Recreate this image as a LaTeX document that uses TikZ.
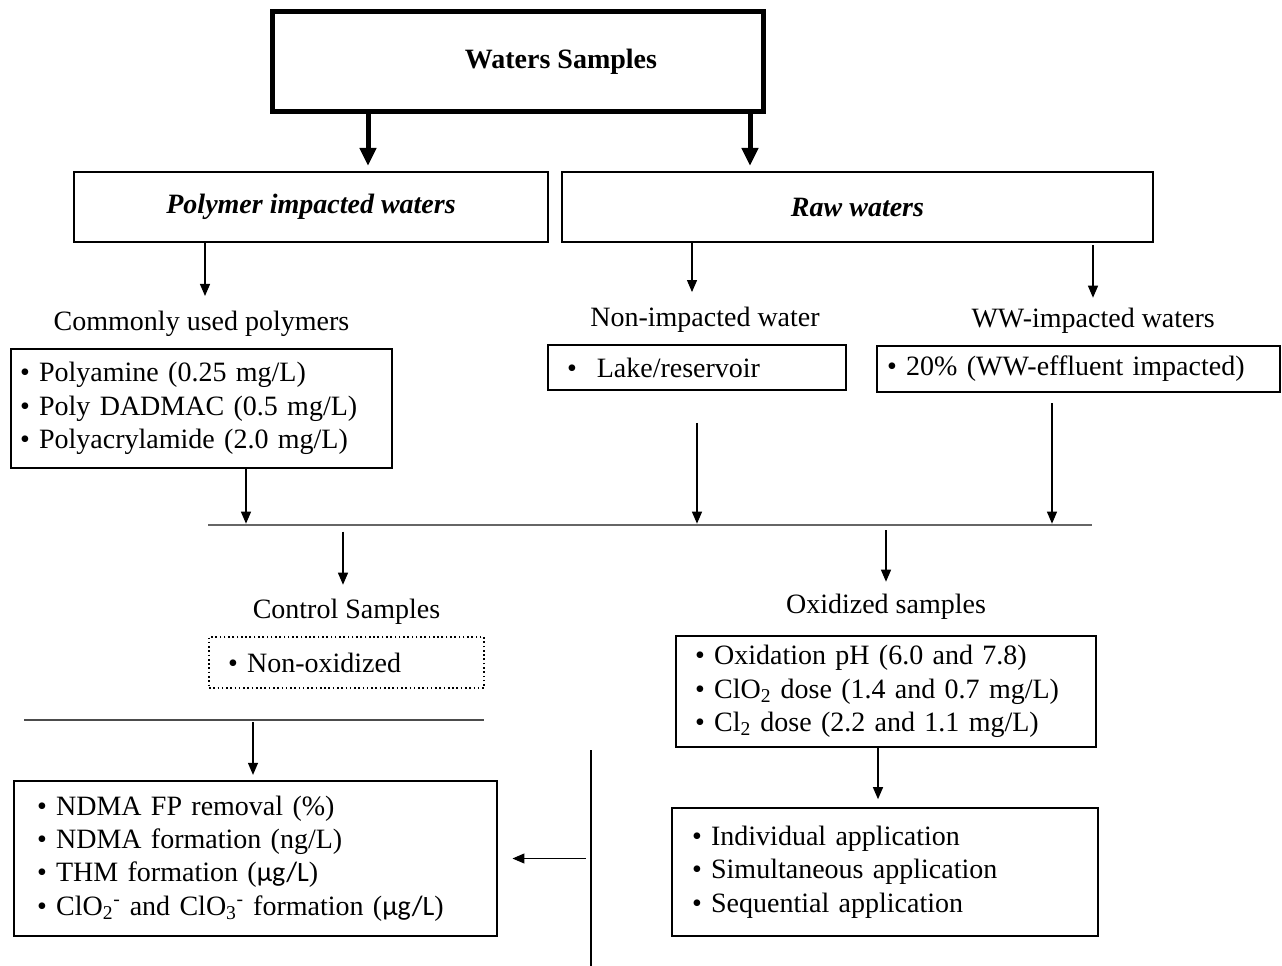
\documentclass[tikz,border=0pt]{standalone}
\usepackage{fontspec}
\setmainfont{Liberation Serif}
\newfontfamily\calfont{Carlito}
\usepackage{tikz}
\usetikzlibrary{arrows.meta,positioning}

\newcommand{\ugL}{{\calfont µg/L}}

\begin{document}
\begin{tikzpicture}[x=0.75pt, y=-0.75pt,
    every node/.style={font=\fontsize{21}{25}\selectfont},
    box/.style={rectangle, draw, line width=1.2pt, align=left, inner ysep=0pt},
    head/.style={rectangle, draw, line width=1.2pt, align=center, font=\fontsize{21}{25}\selectfont\bfseries\itshape},
    arrow/.style={-{Triangle[length=9pt,width=7.5pt]}, line width=0.9pt},
    bigarrow/.style={-{Triangle[length=13.5pt,width=12pt]}, line width=3.75pt},
    rule/.style={line width=1pt, black!70}]

    \useasboundingbox (0,0) rectangle (1282,966);

    % Top
    \node[rectangle, draw, line width=3.75pt, minimum width=368.25pt, minimum height=75pt] (samples) at (517.5,62) {};
    \node[font=\fontsize{21}{25}\selectfont\bfseries] (samplestext) at (561,62) {Waters Samples};

    % Two branches
    \node[head, minimum width=355.5pt, minimum height=52.5pt] (polymer) at (311,207) {Polymer impacted waters};
    \node[head, minimum width=443.25pt, minimum height=52.5pt] (raw) at (857.5,207) {Raw waters};

    % Water types
    \node[box, inner xsep=6.75pt, text width=272.25pt, minimum height=89.25pt] (polylist) at (201.5,408.5)
        {• Polyamine (0.25 mg/L)\\• Poly DADMAC (0.5 mg/L)\\• Polyacrylamide (2.0 mg/L)};
    \node[box, inner xsep=14.25pt, text width=195pt, minimum height=33.75pt] (lake) at (697,367.5)
        {•\hspace{15pt}Lake/reservoir};
    \node[box, inner xsep=7.5pt, text width=287.25pt, minimum height=34.5pt] (ww) at (1078.5,369)
        {• 20\% (WW-effluent impacted)};

    \node[above=5pt of polylist] (commonly) {Commonly used polymers};
    \node[above=5pt of lake, xshift=6pt] (nonimp) {Non-impacted water};
    \node[above=5pt of ww, xshift=11pt] (wwimp) {WW-impacted waters};

    % Collecting line
    \coordinate (mixL) at (208,525);
    \coordinate (mixR) at (1092,525);
    \draw[rule, line width=1.1pt, black!60] (mixL) -- (mixR);

    % Samples
    \node[box, dotted, inner xsep=14.25pt, text width=177.75pt, minimum height=38.25pt] (control) at (346.5,662.5)
        {• Non-oxidized};
    \node[box, inner xsep=14.25pt, text width=286.5pt, minimum height=83.25pt] (oxid) at (886,691.5)
        {• Oxidation pH (6.0 and 7.8)\\• ClO\textsubscript{2} dose (1.4 and 0.7 mg/L)\\• Cl\textsubscript{2} dose (2.2 and 1.1 mg/L)};
    \node[above=5pt of control] (ctrl) {Control Samples};
    \node[above=8pt of oxid] (oxlabel) {Oxidized samples};

    \node[box, inner xsep=15pt, text width=289.5pt, minimum height=96pt] (apps) at (885,872)
        {• Individual application\\• Simultaneous application\\• Sequential application};

    % Outputs
    \coordinate (outL) at (24,720);
    \coordinate (outR) at (484,720);
    \draw[rule] (outL) -- (outR);
    \coordinate (vtop) at (591,750);
    \coordinate (vbot) at (591,966);
    \draw[rule, black] (vtop) -- (vbot);

    \node[box, inner xsep=17.25pt, text width=327.75pt, minimum height=116.25pt] (result) at (255.5,858.5)
        {• NDMA FP removal (\%)\\• NDMA formation (ng/L)\\• THM formation (\ugL)\\%
         • ClO\textsubscript{2}\textsuperscript{-} and ClO\textsubscript{3}\textsuperscript{-} formation (\ugL)};

    % Arrows
    \draw[bigarrow, shorten >=4pt] (samples.south -| 368,0) -- (polymer.north -| 368,0);
    \draw[bigarrow, shorten >=4pt] (samples.south -| 750,0) -- (raw.north -| 750,0);

    \draw[arrow, shorten >=8pt] (polymer.south -| 205,0) -- (commonly.north -| 205,0);
    \draw[arrow, shorten >=8pt] (raw.south -| 692,0) -- (nonimp.north -| 692,0);
    \draw[arrow, shorten <=2pt, shorten >=4.5pt] (raw.south -| 1093,0) -- (wwimp.north -| 1093,0);

    \draw[arrow, shorten >=1pt] (polylist.south -| 246,0) -- (mixL -| 246,0);
    \draw[arrow, shorten <=24pt, shorten >=1pt] (lake.south -| 697,0) -- (mixL -| 697,0);
    \draw[arrow, shorten <=8pt, shorten >=1pt] (ww.south -| 1052,0) -- (mixL -| 1052,0);

    \draw[arrow, shorten <=5pt, shorten >=7.5pt] (mixL -| 343,0) -- (ctrl.north -| 343,0);
    \draw[arrow, shorten <=4pt, shorten >=6pt] (mixL -| 886,0) -- (oxlabel.north -| 886,0);

    \draw[arrow, shorten <=1.5pt, shorten >=4pt] (outL -| 253,0) -- (result.north -| 253,0);
    \draw[arrow, shorten >=6pt] (oxid.south -| 878,0) -- (apps.north -| 878,0);
    \draw[arrow, shorten <=4pt, shorten >=11pt] (vtop |- result.east) -- (result.east);

\end{tikzpicture}
\end{document}
